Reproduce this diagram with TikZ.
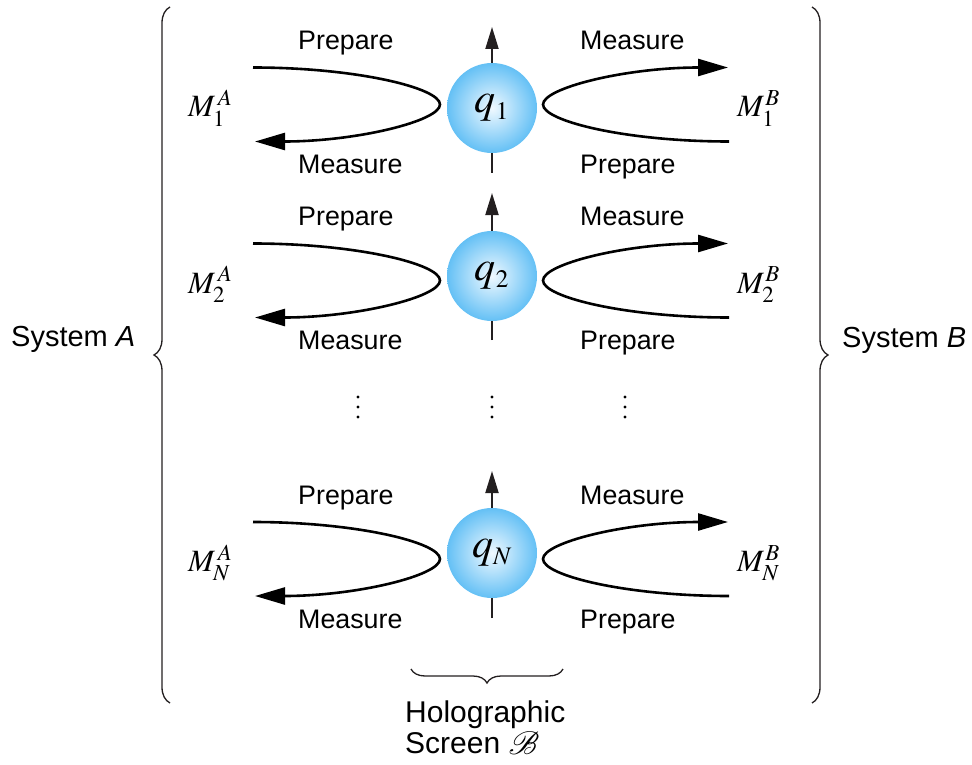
\documentclass[tikz,border=0pt]{standalone}
\usepackage{mathptmx}
\usepackage{mathrsfs}
\usepackage[no-math]{fontspec}
\setmainfont{Liberation Sans}
\usetikzlibrary{arrows.meta,decorations.pathreplacing,shadings}
\definecolor{ballout}{RGB}{100,192,245}
\definecolor{ballin}{RGB}{240,249,255}
\definecolor{spincol}{RGB}{35,31,32}
\begin{document}
\begin{tikzpicture}[x=1pt,y=-1pt,
  lbl/.style={font=\fontsize{26.8}{30}\selectfont, inner sep=0pt, anchor=base west},
  mlab/.style={font=\fontsize{31}{34}\selectfont, inner sep=0pt, anchor=base west},
  sys/.style={font=\fontsize{29}{32}\selectfont, inner sep=0pt, anchor=base west},
  ball/.style={circle, minimum size=90pt, inner sep=0pt, inner color=ballin, outer color=ballout, font=\fontsize{42}{42}\selectfont},
  loopline/.style={line width=2.6pt, -{Triangle[length=30pt,width=17pt]}},
  spinline/.style={line width=2pt, spincol, -{Triangle[length=22pt,width=13pt]}},
  bracebig/.style={line width=1.3pt, draw=spincol, decorate, decoration={brace, amplitude=16pt}},
  bracesmall/.style={line width=1.3pt, draw=spincol, decorate, decoration={brace, amplitude=14pt}}
]
\useasboundingbox (0,0) rectangle (972,765);

\foreach \c/\s/\vt/\vb/\i in {104.5/108/27/173/1, 280.5/276/193/340/2, 559/553/471/618/N} {
  \coordinate (vt\i) at (492,\vt);
  \coordinate (vb\i) at (492,\vb);
  \draw[spinline] (vb\i) -- (vt\i);
  \node[ball] (q\i) at (492,\s) {$q_{\scriptscriptstyle \i}$};
  \coordinate (La\i) at (253,\c-37);
  \coordinate (Lb\i) at (255,\c+37);
  \coordinate (Ra\i) at (729,\c+37);
  \coordinate (Rb\i) at (728,\c-37);
  \draw[loopline] (La\i) .. controls (356,\c-37) and (440,\c-16.6) .. (440,\c) .. controls (440,\c+16.6) and (356,\c+37) .. (Lb\i);
  \draw[loopline] (Ra\i) .. controls (626,\c+37) and (543,\c+16.6) .. (543,\c) .. controls (543,\c-16.6) and (626,\c-37) .. (Rb\i);
  \node[lbl] (pa\i) at (298,\c-55) {Prepare};
  \node[lbl] (ma\i) at (298,\c+69) {Measure};
  \node[lbl] (mb\i) at (580,\c-55) {Measure};
  \node[lbl] (pb\i) at (580,\c+69) {Prepare};
  \node[mlab] (MA\i) at (188,\c+12.5) {$M_{\i}^{\,A}$};
  \node[mlab] (MB\i) at (737,\c+12.5) {$M_{\i}^{\kern1pt B}$};
}

\foreach \x in {358,492,625}
  \foreach \y in {397,407,417}
    \fill (\x,\y) circle (1.6);

\draw[bracebig] (170,703) -- (170,7);
\draw[bracebig] (812,7) -- (812,703);
\draw[bracesmall] (563,669) -- (411,669);

\node[sys] (sysA) at (11,346) {System \textit{A}};
\node[sys] (sysB) at (842,347) {System \textit{B}};
\node[font=\fontsize{30}{31}\selectfont, inner sep=0pt, anchor=base west, align=left] (holo) at (405,753) {Holographic\\Screen \raisebox{-1pt}{\scalebox{1.3}{$\mathscr{B}$}}};
\end{tikzpicture}
\end{document}
